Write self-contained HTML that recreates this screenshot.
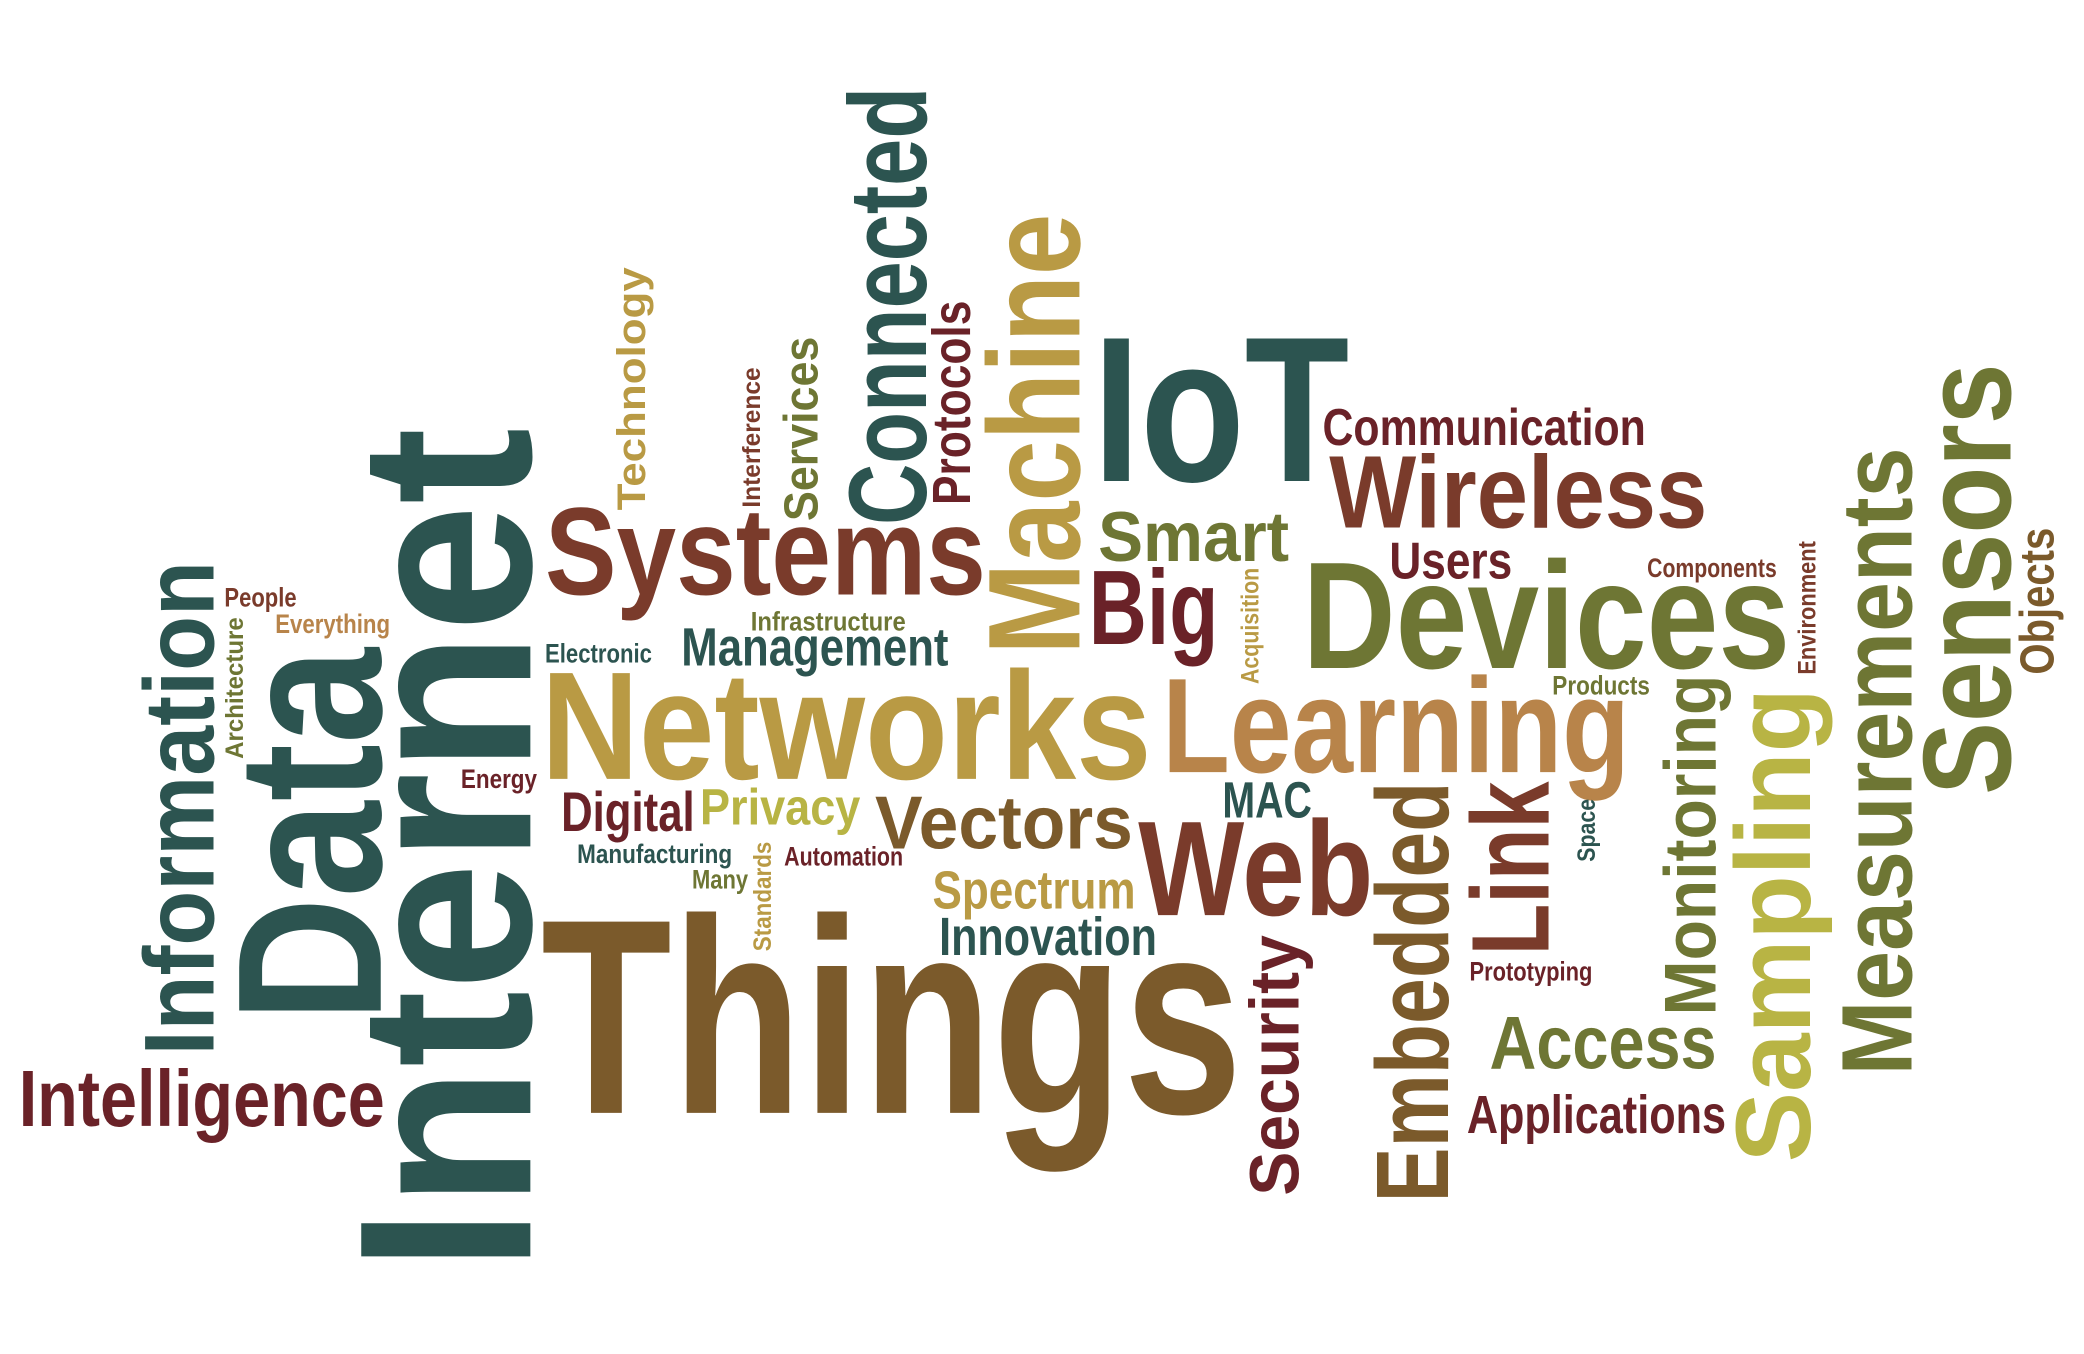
<!DOCTYPE html>
<html><head><meta charset="utf-8"><style>
html,body{margin:0;padding:0;background:#fff;}
svg{display:block;}
text{font-family:"Liberation Sans Narrow","Liberation Sans",sans-serif;font-weight:bold;}
</style></head><body>
<svg width="2084" height="1354" viewBox="0 0 1560 1013.5" xmlns="http://www.w3.org/2000/svg">
<rect width="1560" height="1013.5" fill="#fff"/>
<g id="words"></g>
</svg>
<script>
const words = ["Things","Networks","Learning","Devices","Systems","IoT","Wireless","Communication","Smart","Big","Users","Web","Vectors","MAC","Spectrum","Innovation","Digital","Privacy","Management","Infrastructure","Electronic","Energy","Manufacturing","Automation","Many","People","Everything","Intelligence","Access","Applications","Prototyping","Components","Products",
"Internet","Data","Information","Architecture","Technology","Interference","Services","Connected","Protocols","Machine","Standards","Acquisition","Security","Embedded","Link","Monitoring","Sampling","Measurements","Sensors","Space","Environment","Objects"];
const TEAL="#2c5450",BROWN="#7b5a2b",RUST="#7a3b2b",MAROON="#6a2228",GOLD="#b99a44",ORANGE="#b8844a",OLIVE="#6e7634",YG="#b8b444";
// [word, rotated(0/1), x, y, fontSize, length, color]
const layout = [
["Things",0,405,833,208,525,BROWN],
["Networks",0,405,583,115,457,GOLD],
["Learning",0,870,578,101,350,ORANGE],
["Devices",0,975,500,114,365,OLIVE],
["Systems",0,408,445,93,330,RUST],
["IoT",0,818,360,155,192,TEAL],
["Wireless",0,995,395,77,283,RUST],
["Communication",0,990,333,39,242,MAROON],
["Smart",0,822,420,53,143,OLIVE],
["Big",0,815,482,79,97,MAROON],
["Users",0,1040,433,39,92,MAROON],
["Web",0,852,685,101,176,RUST],
["Vectors",0,655,635,56,193,BROWN],
["MAC",0,915,612,38,67,TEAL],
["Spectrum",0,698,680,40,152,GOLD],
["Innovation",0,703,715,40,163,TEAL],
["Digital",0,420,622,42,100,MAROON],
["Privacy",0,524,617,38,120,YG],
["Management",0,510,498,40,200,TEAL],
["Infrastructure",0,562,472,20,116,OLIVE],
["Electronic",0,408,496,20,80,TEAL],
["Energy",0,345,590,20,57,MAROON],
["Manufacturing",0,432,646,20,116,TEAL],
["Automation",0,587,648,20,89,MAROON],
["Many",0,518,665,20,42,OLIVE],
["People",0,168,454,20,54,RUST],
["Everything",0,206,474,20,86,ORANGE],
["Intelligence",0,14,843,60,274,MAROON],
["Access",0,1115,800,56,170,OLIVE],
["Applications",0,1098,848,40,194,MAROON],
["Prototyping",0,1100,734,20,92,MAROON],
["Components",0,1233,432,20,97,RUST],
["Products",0,1162,520,20,73,OLIVE],
["Internet",1,397,952,184,632,TEAL],
["Data",1,285,765,154,280,TEAL],
["Information",1,160,790,74,370,TEAL],
["Architecture",1,182,568,19,106,OLIVE],
["Technology",1,483,382,30,182,GOLD],
["Interference",1,569,380,19,105,RUST],
["Services",1,612,390,36,138,OLIVE],
["Connected",1,693,393,83,328,TEAL],
["Protocols",1,726,378,40,153,MAROON],
["Machine",1,808,490,98,330,GOLD],
["Standards",1,577,712,19,82,GOLD],
["Acquisition",1,942,512,19,87,GOLD],
["Security",1,972,895,52,195,MAROON],
["Embedded",1,1084,900,77,315,BROWN],
["Link",1,1159,715,83,130,RUST],
["Monitoring",1,1284,760,55,255,OLIVE],
["Sampling",1,1355,870,80,355,YG],
["Measurements",1,1431,805,75,470,OLIVE],
["Sensors",1,1505,595,94,323,OLIVE],
["Space",1,1194,645,19,47,TEAL],
["Environment",1,1359,505,19,100,RUST],
["Objects",1,1537,505,36,110,BROWN]
];
const g=document.getElementById('words');
const NS="http://www.w3.org/2000/svg";
layout.forEach(function(w){
  const t=document.createElementNS(NS,'text');
  t.textContent=w[0];
  t.setAttribute('font-size',w[4]);
  t.setAttribute('fill',w[6]);
  t.setAttribute('textLength',w[5]);
  t.setAttribute('lengthAdjust','spacingAndGlyphs');
  if(w[1]){
    t.setAttribute('transform','translate('+w[2]+','+w[3]+') rotate(-90)');
    t.setAttribute('x',0);t.setAttribute('y',0);
  } else {
    t.setAttribute('x',w[2]);t.setAttribute('y',w[3]);
  }
  
  
  g.appendChild(t);
});
</script>
</body></html>
